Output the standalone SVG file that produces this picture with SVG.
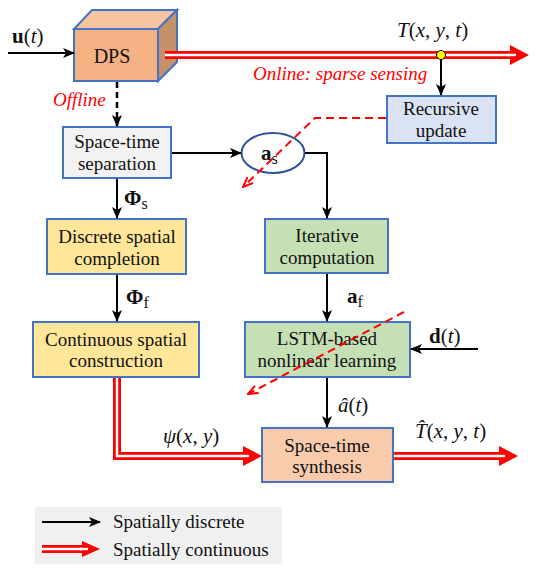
<svg xmlns="http://www.w3.org/2000/svg" width="540" height="576" viewBox="0 0 540 576" font-family="Liberation Serif">
<defs>
<marker id="ab" viewBox="0 0 12 10" refX="11" refY="5" markerWidth="12" markerHeight="10" markerUnits="userSpaceOnUse" orient="auto"><path d="M0,0 L12,5 L0,10 L3,5 z" fill="#000"/></marker>
<marker id="ar" viewBox="0 0 12 10" refX="11" refY="5" markerWidth="12" markerHeight="10" markerUnits="userSpaceOnUse" orient="auto"><path d="M1,1 L11,5 L1,9" fill="none" stroke="#ff0000" stroke-width="2"/></marker>
</defs>
<rect width="540" height="576" fill="#fff"/>

<g id="legend">
<rect x="35" y="507" width="247" height="57" fill="#f0f0f0"/>
<line x1="42" y1="522" x2="100" y2="522" stroke="#000" stroke-width="2" marker-end="url(#ab)"/>
<path d="M42,549 L82,549" stroke="#ff0000" stroke-width="8" fill="none"/>
<path d="M42,549 L86,549" stroke="#fff" stroke-width="2.4" fill="none"/>
<polygon points="82,541 100,549 82,557" fill="#ff0000"/>
<path d="M80,549 L88,549" stroke="#fff" stroke-width="2.4" fill="none"/>
<text x="113" y="528" style="font-family:'Liberation Serif' !important;font-size:19px;fill:#111">Spatially discrete</text>
<text x="113" y="556" style="font-family:'Liberation Serif' !important;font-size:19px;fill:#111">Spatially continuous</text>
</g>

<g id="dps" stroke="#4472c4" stroke-width="2">
<polygon points="74,29 92,10 177,10 158,29" fill="#f8c49f"/>
<polygon points="158,29 177,10 177,62 158,81" fill="#c5916a"/>
<rect x="74" y="29" width="84" height="52" fill="#f4b183"/>
<text x="112" y="63" stroke="none" style="font-family:'Liberation Serif' !important;font-size:20px;fill:#111;text-anchor:middle">DPS</text>
</g>

<g id="separation">
<rect x="63" y="127" width="108" height="51" fill="#f2f2f2" stroke="#4472c4" stroke-width="2"/>
<text x="117" y="148" style="font-family:'Liberation Serif' !important;font-size:19px;fill:#111;text-anchor:middle">Space-time</text>
<text x="117" y="170" style="font-family:'Liberation Serif' !important;font-size:19px;fill:#111;text-anchor:middle">separation</text>
</g>

<g id="as">
<ellipse cx="273" cy="153" rx="31.5" ry="20" fill="#fff" stroke="#2f5597" stroke-width="2"/>
<text x="261" y="160" style="font-family:'Liberation Serif' !important;font-size:21px;fill:#111;font-weight:bold">a<tspan style="font-weight:normal;font-size:16px" dy="4">s</tspan></text>
</g>

<g id="recursive">
<rect x="387" y="96" width="109" height="47" fill="#dae3f3" stroke="#4472c4" stroke-width="2"/>
<text x="441" y="115" style="font-family:'Liberation Serif' !important;font-size:19px;fill:#111;text-anchor:middle">Recursive</text>
<text x="441" y="137" style="font-family:'Liberation Serif' !important;font-size:19px;fill:#111;text-anchor:middle">update</text>
</g>

<g id="discrete">
<rect x="47" y="219" width="139" height="55" fill="#ffe699" stroke="#4472c4" stroke-width="2"/>
<text x="117" y="243" style="font-family:'Liberation Serif' !important;font-size:19px;fill:#111;text-anchor:middle">Discrete spatial</text>
<text x="117" y="265" style="font-family:'Liberation Serif' !important;font-size:19px;fill:#111;text-anchor:middle">completion</text>
</g>

<g id="continuous">
<rect x="33" y="322" width="166" height="55" fill="#ffe699" stroke="#4472c4" stroke-width="2"/>
<text x="116" y="346" style="font-family:'Liberation Serif' !important;font-size:19px;fill:#111;text-anchor:middle">Continuous spatial</text>
<text x="116" y="367" style="font-family:'Liberation Serif' !important;font-size:19px;fill:#111;text-anchor:middle">construction</text>
</g>

<g id="iterative">
<rect x="265" y="219" width="123" height="54" fill="#c5e0b4" stroke="#4472c4" stroke-width="2"/>
<text x="327" y="242" style="font-family:'Liberation Serif' !important;font-size:19px;fill:#111;text-anchor:middle">Iterative</text>
<text x="327" y="264" style="font-family:'Liberation Serif' !important;font-size:19px;fill:#111;text-anchor:middle">computation</text>
</g>

<g id="lstm">
<rect x="245" y="322" width="165" height="55" fill="#c5e0b4" stroke="#4472c4" stroke-width="2"/>
<text x="327" y="345" style="font-family:'Liberation Serif' !important;font-size:19px;fill:#111;text-anchor:middle">LSTM-based</text>
<text x="327" y="367" style="font-family:'Liberation Serif' !important;font-size:19px;fill:#111;text-anchor:middle">nonlinear learning</text>
</g>

<g id="synthesis">
<rect x="262" y="428" width="131" height="54" fill="#f8cbad" stroke="#4472c4" stroke-width="2"/>
<text x="327" y="452" style="font-family:'Liberation Serif' !important;font-size:19px;fill:#111;text-anchor:middle">Space-time</text>
<text x="327" y="473" style="font-family:'Liberation Serif' !important;font-size:19px;fill:#111;text-anchor:middle">synthesis</text>
</g>

<g id="connectors">
<g stroke="#000" stroke-width="2" fill="none" marker-end="url(#ab)">
<line x1="8" y1="53" x2="74" y2="53"/>
<line x1="117" y1="82" x2="117" y2="126" stroke-width="2.5" stroke-dasharray="6 4"/>
<line x1="117" y1="179" x2="117" y2="218"/>
<line x1="117" y1="275" x2="117" y2="321"/>
<line x1="172" y1="153" x2="241" y2="153"/>
<path d="M305,153 L327,153 L327,218"/>
<line x1="327" y1="274" x2="327" y2="321"/>
<line x1="327" y1="378" x2="327" y2="427"/>
<line x1="478" y1="349" x2="411" y2="349"/>
<line x1="441" y1="57" x2="441" y2="95"/>
</g>
<g fill="none">
<path d="M165,55 L512,55" stroke="#ff0000" stroke-width="8"/>
<path d="M165,55 L516,55" stroke="#fff" stroke-width="2.4"/>
<polygon points="510,45 529,55 510,65" fill="#ff0000"/>
<path d="M508,55 L516,55" stroke="#fff" stroke-width="2.4"/>
<path d="M117,378 L117,456 L245,456" stroke="#ff0000" stroke-width="8"/>
<path d="M117,378 L117,456 L249,456" stroke="#fff" stroke-width="2.4"/>
<polygon points="243,446 262,456 243,466" fill="#ff0000"/>
<path d="M241,456 L249,456" stroke="#fff" stroke-width="2.4"/>
<path d="M394,456 L501,456" stroke="#ff0000" stroke-width="8"/>
<path d="M394,456 L505,456" stroke="#fff" stroke-width="2.4"/>
<polygon points="499,446 518,456 499,466" fill="#ff0000"/>
<path d="M497,456 L505,456" stroke="#fff" stroke-width="2.4"/>
</g>
<g stroke="#ff0000" stroke-width="2" fill="none" stroke-dasharray="8 5" marker-end="url(#ar)">
<path d="M386,118 L315,118 L243,187"/>
<path d="M404,312 L248,394"/>
</g>
<circle cx="441" cy="55" r="4.5" fill="#ffff00" stroke="#000" stroke-width="1"/>
</g>

<g id="labels">
<text x="12" y="43" style="font-family:'Liberation Serif' !important;font-size:21px;fill:#111"><tspan font-weight="bold">u</tspan>(<tspan font-style="italic">t</tspan>)</text>
<text x="397" y="37" style="font-family:'Liberation Serif' !important;font-size:21px;fill:#111"><tspan font-style="italic">T</tspan>(<tspan font-style="italic">x</tspan>, <tspan font-style="italic">y</tspan>, <tspan font-style="italic">t</tspan>)</text>
<text x="253" y="80" style="font-family:'Liberation Serif' !important;font-size:19px;font-style:italic;fill:#ff0000">Online: sparse sensing</text>
<text x="53" y="106" style="font-family:'Liberation Serif' !important;font-size:19px;font-style:italic;fill:#ff0000">Offline</text>
<text x="124" y="205" style="font-family:'Liberation Serif' !important;font-size:21px;fill:#111;font-weight:bold">Φ<tspan style="font-weight:normal;font-size:16px" dy="4">s</tspan></text>
<text x="126" y="304" style="font-family:'Liberation Serif' !important;font-size:21px;fill:#111;font-weight:bold">Φ<tspan style="font-weight:normal;font-size:16px" dy="4">f</tspan></text>
<text x="347" y="303" style="font-family:'Liberation Serif' !important;font-size:21px;fill:#111;font-weight:bold">a<tspan style="font-weight:normal;font-size:16px" dy="4">f</tspan></text>
<text x="429" y="343" style="font-family:'Liberation Serif' !important;font-size:21px;fill:#111"><tspan font-weight="bold">d</tspan>(<tspan font-style="italic">t</tspan>)</text>
<text x="338" y="412" style="font-family:'Liberation Serif' !important;font-size:21px;fill:#111"><tspan font-style="italic">â</tspan>(<tspan font-style="italic">t</tspan>)</text>
<text x="163" y="443" style="font-family:'Liberation Serif' !important;font-size:21px;fill:#111"><tspan font-style="italic">ψ</tspan>(<tspan font-style="italic">x</tspan>, <tspan font-style="italic">y</tspan>)</text>
<text x="415" y="438" style="font-family:'Liberation Serif' !important;font-size:21px;fill:#111"><tspan font-style="italic">T̂</tspan>(<tspan font-style="italic">x</tspan>, <tspan font-style="italic">y</tspan>, <tspan font-style="italic">t</tspan>)</text>
</g>
</svg>
